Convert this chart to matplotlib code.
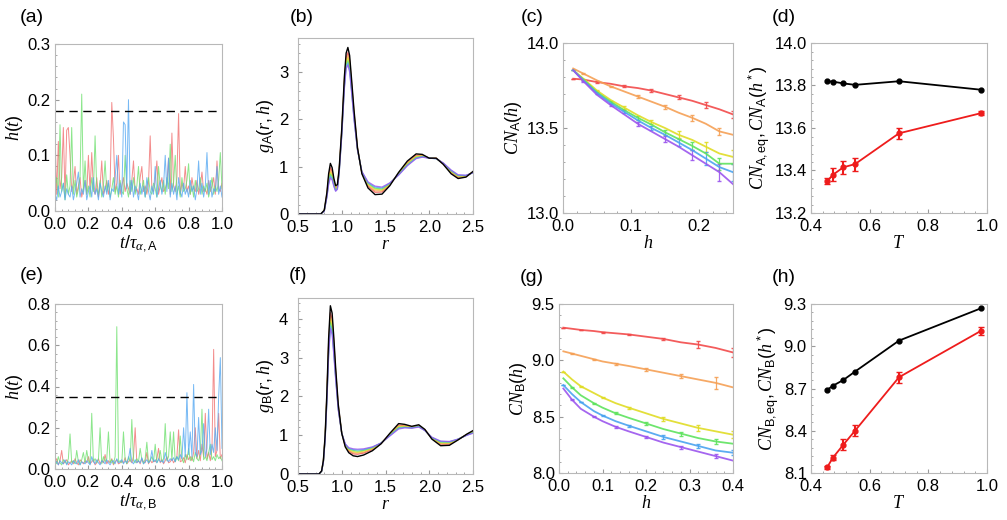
import numpy as np
import matplotlib
matplotlib.use("Agg")
import matplotlib.pyplot as plt
from matplotlib.ticker import AutoMinorLocator, FormatStrFormatter, MultipleLocator

plt.rcParams["font.family"] = ["Liberation Sans", "DejaVu Sans"]
# italic serif letters, upright sans subscripts
plt.rcParams["mathtext.fontset"] = "custom"
plt.rcParams["mathtext.rm"] = "Liberation Sans"
plt.rcParams["mathtext.it"] = "Liberation Serif:italic"
plt.rcParams["mathtext.bf"] = "Liberation Sans:bold"

# ---- (a) / (e) h(t) traces, values in 1e-3, one sample every 0.01 of t
t_grid = np.linspace(0, 1, 101)
ha_red = [140, 30, 125, 40, 60, 150, 25, 145, 150, 100,
          35, 50, 80, 30, 45, 60, 25, 40, 55, 30,
          100, 35, 105, 40, 30, 60, 25, 45, 90, 30,
          40, 55, 30, 45, 195, 130, 35, 50, 100, 30,
          45, 60, 35, 50, 40, 30, 55, 90, 35, 40,
          30, 60, 80, 35, 45, 30, 50, 135, 40, 35,
          55, 90, 30, 45, 60, 35, 40, 50, 95, 30,
          140, 45, 35, 60, 175, 30, 50, 40, 80, 35,
          45, 30, 60, 40, 35, 55, 30, 45, 70, 35,
          40, 30, 55, 35, 45, 60, 30, 90, 40, 35, 50]
ha_green = [40, 60, 25, 155, 35, 50, 20, 65, 30, 45,
            150, 30, 55, 25, 40, 60, 210, 35, 90, 30,
            45, 25, 60, 35, 135, 40, 30, 55, 25, 45,
            90, 35, 50, 25, 40, 60, 30, 45, 25, 55,
            35, 30, 100, 40, 25, 55, 35, 60, 30, 45,
            80, 30, 40, 55, 25, 45, 60, 35, 30, 50,
            40, 25, 80, 45, 35, 55, 30, 60, 40, 120,
            35, 50, 100, 30, 45, 25, 60, 35, 40, 55,
            85, 30, 45, 25, 55, 35, 40, 60, 30, 45,
            35, 50, 25, 40, 60, 30, 45, 35, 55, 105, 40]
ha_blue = [30, 20, 45, 25, 35, 50, 20, 40, 30, 25,
           45, 20, 35, 50, 70, 25, 40, 30, 55, 20,
           35, 45, 25, 60, 30, 40, 20, 50, 35, 25,
           45, 30, 55, 20, 40, 35, 60, 100, 30, 50,
           25, 160, 155, 40, 200, 30, 55, 25, 45, 35,
           20, 50, 30, 45, 25, 60, 35, 20, 45, 30,
           80, 25, 40, 55, 30, 45, 100, 35, 95, 25,
           50, 30, 45, 20, 60, 35, 25, 50, 30, 40,
           25, 55, 35, 45, 20, 40, 90, 30, 50, 25,
           45, 105, 30, 55, 25, 40, 35, 80, 30, 45, 25]

he_red = [30, 50, 20, 40, 90, 25, 35, 45, 20, 30,
          40, 25, 50, 30, 20, 45, 35, 25, 40, 30,
          60, 25, 35, 45, 20, 30, 50, 25, 40, 30,
          70, 25, 40, 30, 50, 20, 35, 45, 25, 30,
          40, 30, 55, 25, 35, 45, 30, 60, 200, 30,
          40, 25, 50, 35, 30, 80, 25, 45, 30, 40,
          35, 50, 100, 30, 45, 25, 40, 60, 30, 35,
          50, 30, 45, 60, 190, 35, 40, 55, 30, 70,
          45, 60, 40, 80, 200, 50, 90, 40, 120, 60,
          270, 50, 80, 40, 100, 580, 60, 90, 270, 50, 70]
he_green = [40, 25, 60, 30, 20, 45, 35, 25, 50, 170,
            30, 40, 25, 90, 35, 20, 45, 80, 30, 90,
            40, 25, 270, 35, 50, 30, 45, 200, 25, 60,
            35, 50, 180, 30, 45, 25, 60, 690, 35, 40,
            30, 180, 45, 25, 60, 35, 240, 40, 30, 50,
            35, 100, 45, 25, 50, 130, 30, 40, 60, 35,
            120, 30, 45, 90, 35, 50, 220, 40, 60, 180,
            45, 180, 35, 60, 40, 160, 50, 30, 70, 45,
            100, 40, 60, 35, 80, 50, 40, 70, 290, 45,
            60, 40, 80, 120, 45, 60, 40, 70, 50, 60, 40]
he_blue = [25, 35, 20, 40, 30, 25, 45, 20, 35, 30,
           20, 40, 30, 25, 45, 20, 35, 30, 25, 40,
           30, 20, 60, 35, 25, 45, 30, 20, 40, 35,
           25, 45, 30, 20, 35, 40, 25, 50, 30, 35,
           45, 25, 40, 30, 50, 100, 35, 25, 45, 30,
           40, 30, 55, 25, 35, 45, 30, 40, 90, 35,
           45, 30, 50, 35, 40, 30, 80, 45, 35, 50,
           40, 55, 35, 60, 45, 70, 50, 200, 60, 370,
           70, 180, 60, 410, 80, 60, 250, 70, 90, 220,
           60, 100, 290, 70, 120, 80, 200, 90, 350, 540, 100]
h_cut_a = 0.18
h_cut_e = 0.35

# ---- (b) g_A(r,h): black + red..purple
r_a = [0.5, 0.76, 0.80, 0.83, 0.85, 0.87, 0.89, 0.91, 0.93, 0.95, 0.97, 1.0,
       1.03, 1.05, 1.07, 1.09, 1.11, 1.14, 1.18, 1.23, 1.3, 1.38, 1.46, 1.55,
       1.65, 1.75, 1.85, 1.92, 2.0, 2.08, 2.16, 2.25, 2.33, 2.42, 2.5]
gA_black = [0, 0, 0.08, 0.45, 0.85, 1.07, 0.98, 0.75, 0.60, 0.62, 0.95, 1.8,
            2.9, 3.4, 3.52, 3.35, 2.9, 2.2, 1.4, 0.85, 0.55, 0.41, 0.42, 0.60,
            0.88, 1.12, 1.27, 1.26, 1.18, 1.18, 1.05, 0.85, 0.75, 0.78, 0.9]
gA_red = [0, 0, 0.07, 0.42, 0.78, 0.98, 0.90, 0.70, 0.56, 0.59, 0.92, 1.755,
          2.82, 3.30, 3.41, 3.25, 2.82, 2.14, 1.39, 0.865, 0.59, 0.46, 0.465, 0.62,
          0.86, 1.09, 1.24, 1.24, 1.18, 1.18, 1.06, 0.875, 0.775, 0.79, 0.89]
gA_orange = [0, 0, 0.07, 0.405, 0.75, 0.93, 0.86, 0.67, 0.55, 0.575, 0.905, 1.73,
             2.79, 3.25, 3.35, 3.19, 2.77, 2.11, 1.38, 0.87, 0.61, 0.49, 0.49, 0.63,
             0.85, 1.075, 1.225, 1.235, 1.18, 1.175, 1.065, 0.885, 0.785, 0.80, 0.885]
gA_yellow = [0, 0, 0.07, 0.39, 0.71, 0.88, 0.82, 0.65, 0.53, 0.56, 0.89, 1.71,
             2.75, 3.20, 3.30, 3.14, 2.73, 2.08, 1.37, 0.88, 0.63, 0.52, 0.51, 0.635,
             0.845, 1.06, 1.21, 1.225, 1.18, 1.175, 1.07, 0.90, 0.80, 0.805, 0.88]
gA_green = [0, 0, 0.07, 0.375, 0.68, 0.84, 0.79, 0.62, 0.51, 0.545, 0.875, 1.69,
            2.71, 3.15, 3.24, 3.09, 2.69, 2.05, 1.36, 0.89, 0.65, 0.545, 0.53, 0.645,
            0.835, 1.045, 1.195, 1.215, 1.18, 1.17, 1.07, 0.91, 0.81, 0.81, 0.875]
gA_blue = [0, 0, 0.06, 0.36, 0.65, 0.80, 0.75, 0.60, 0.49, 0.53, 0.86, 1.67,
           2.68, 3.11, 3.19, 3.04, 2.65, 2.02, 1.36, 0.89, 0.66, 0.57, 0.55, 0.65,
           0.83, 1.03, 1.18, 1.21, 1.18, 1.17, 1.075, 0.92, 0.82, 0.815, 0.87]
gA_purple = [0, 0, 0.06, 0.35, 0.62, 0.76, 0.72, 0.58, 0.48, 0.52, 0.85, 1.65,
             2.65, 3.07, 3.15, 3.0, 2.62, 2.0, 1.35, 0.9, 0.68, 0.59, 0.57, 0.66,
             0.82, 1.02, 1.17, 1.2, 1.18, 1.17, 1.08, 0.93, 0.83, 0.82, 0.87]

# ---- (f) g_B(r,h)
r_b = [0.5, 0.74, 0.77, 0.79, 0.81, 0.83, 0.85, 0.87, 0.89, 0.91, 0.93, 0.96,
       1.0, 1.04, 1.08, 1.13, 1.18, 1.25, 1.35, 1.45, 1.55, 1.65, 1.72, 1.8,
       1.88, 1.95, 2.03, 2.13, 2.23, 2.33, 2.43, 2.5]
gB_black = [0, 0, 0.08, 0.35, 1.0, 2.1, 3.5, 4.34, 4.15, 3.5, 2.75, 1.8,
            1.05, 0.7, 0.55, 0.47, 0.45, 0.49, 0.6, 0.78, 1.05, 1.3, 1.28, 1.23,
            1.27, 1.15, 0.9, 0.73, 0.74, 0.88, 1.03, 1.12]
gB_red = [0, 0, 0.08, 0.34, 0.96, 2.03, 3.37, 4.16, 3.99, 3.37, 2.66, 1.76,
          1.05, 0.72, 0.59, 0.52, 0.51, 0.54, 0.63, 0.79, 1.03, 1.26, 1.25, 1.22,
          1.25, 1.14, 0.92, 0.77, 0.77, 0.89, 1.02, 1.10]
gB_orange = [0, 0, 0.08, 0.33, 0.95, 1.99, 3.30, 4.07, 3.90, 3.30, 2.62, 1.73,
             1.05, 0.74, 0.61, 0.55, 0.54, 0.56, 0.65, 0.79, 1.02, 1.24, 1.24, 1.21,
             1.24, 1.14, 0.92, 0.78, 0.79, 0.89, 1.02, 1.09]
gB_yellow = [0, 0, 0.07, 0.32, 0.93, 1.95, 3.23, 3.99, 3.82, 3.23, 2.57, 1.71,
             1.05, 0.75, 0.63, 0.58, 0.56, 0.59, 0.66, 0.79, 1.01, 1.22, 1.23, 1.20,
             1.23, 1.13, 0.93, 0.80, 0.80, 0.89, 1.01, 1.08]
gB_green = [0, 0, 0.07, 0.31, 0.91, 1.91, 3.16, 3.90, 3.74, 3.16, 2.53, 1.69,
            1.05, 0.76, 0.65, 0.61, 0.59, 0.61, 0.68, 0.80, 1.00, 1.20, 1.21, 1.19,
            1.23, 1.13, 0.94, 0.82, 0.82, 0.90, 1.01, 1.07]
gB_blue = [0, 0, 0.07, 0.31, 0.89, 1.88, 3.10, 3.82, 3.67, 3.10, 2.49, 1.67,
           1.05, 0.77, 0.66, 0.63, 0.62, 0.63, 0.69, 0.80, 0.99, 1.18, 1.20, 1.19,
           1.22, 1.12, 0.94, 0.84, 0.83, 0.90, 1.00, 1.06]
gB_purple = [0, 0, 0.07, 0.30, 0.88, 1.85, 3.05, 3.75, 3.60, 3.05, 2.45, 1.65,
             1.05, 0.78, 0.68, 0.65, 0.64, 0.65, 0.70, 0.80, 0.98, 1.16, 1.19, 1.18,
             1.21, 1.12, 0.95, 0.85, 0.84, 0.90, 1.00, 1.05]

# ---- (c) CN_A(h)
h_c = [0.015, 0.03, 0.05, 0.07, 0.09, 0.11, 0.13, 0.15, 0.17, 0.19, 0.21, 0.23, 0.25]
cnA = [
    [13.79, 13.785, 13.77, 13.76, 13.745, 13.735, 13.72, 13.70, 13.68, 13.66, 13.635, 13.61, 13.58],
    [13.85, 13.82, 13.78, 13.745, 13.715, 13.685, 13.655, 13.625, 13.59, 13.56, 13.525, 13.48, 13.46],
    [13.84, 13.79, 13.72, 13.665, 13.62, 13.575, 13.535, 13.50, 13.46, 13.43, 13.39, 13.35, 13.33],
    [13.84, 13.785, 13.71, 13.655, 13.605, 13.56, 13.52, 13.475, 13.435, 13.395, 13.35, 13.29, 13.29],
    [13.84, 13.78, 13.705, 13.645, 13.595, 13.545, 13.50, 13.46, 13.415, 13.37, 13.32, 13.27, 13.24],
    [13.84, 13.775, 13.695, 13.635, 13.58, 13.525, 13.48, 13.435, 13.39, 13.34, 13.29, 13.24, 13.17],
]
cnA_err = [
    [0, .003, .005, .005, .006, .007, .008, .010, .012, .014, .016, .018, .020],
    [0, .003, .004, .005, .006, .008, .010, .012, .014, .016, .018, .020, .020],
    [0, .003, .005, .006, .008, .010, .013, .016, .020, .025, .030, .040, .040],
    [0, .003, .005, .006, .008, .010, .012, .015, .018, .022, .028, .035, .035],
    [0, .003, .005, .007, .009, .011, .014, .017, .020, .030, .040, .045, .050],
    [0, .003, .005, .007, .009, .011, .014, .018, .022, .030, .040, .050, .050],
]

# ---- (g) CN_B(h)
h_g = [0.01, 0.03, 0.05, 0.08, 0.1, 0.13, 0.16, 0.2, 0.24, 0.28, 0.32, 0.36, 0.4]
cnB = [
    [9.29, 9.28, 9.27, 9.26, 9.25, 9.24, 9.23, 9.21, 9.19, 9.16, 9.14, 9.11, 9.07],
    [9.08, 9.06, 9.04, 9.01, 8.99, 8.97, 8.95, 8.92, 8.89, 8.86, 8.83, 8.80, 8.76],
    [8.90, 8.83, 8.77, 8.71, 8.67, 8.62, 8.58, 8.53, 8.48, 8.44, 8.40, 8.37, 8.34],
    [8.84, 8.76, 8.69, 8.62, 8.58, 8.53, 8.49, 8.44, 8.39, 8.35, 8.31, 8.28, 8.26],
    [8.78, 8.70, 8.63, 8.55, 8.51, 8.46, 8.42, 8.37, 8.32, 8.28, 8.24, 8.20, 8.18],
    [8.75, 8.65, 8.57, 8.50, 8.46, 8.41, 8.37, 8.32, 8.27, 8.23, 8.19, 8.15, 8.11],
]
cnB_err = [
    [0, 0, .003, .004, .005, .006, .008, .010, .012, .015, .030, .040, .040],
    [0, .003, .004, .005, .006, .008, .010, .012, .015, .020, .040, .050, .050],
    [0, .003, .004, .005, .006, .008, .010, .012, .015, .020, .025, .030, .030],
    [0, .003, .004, .005, .006, .008, .010, .012, .014, .018, .020, .022, .022],
    [0, .003, .004, .005, .006, .008, .010, .012, .014, .016, .018, .020, .020],
    [0, .003, .004, .005, .006, .007, .008, .010, .012, .014, .016, .018, .020],
]

# ---- (d) / (h) vs temperature
T = [0.455, 0.475, 0.51, 0.55, 0.70, 0.98]
cnA_eq = [13.82, 13.818, 13.81, 13.803, 13.82, 13.78]
cnA_star = [13.35, 13.38, 13.415, 13.43, 13.575, 13.67]
cnA_star_err = [0.015, 0.03, 0.03, 0.03, 0.025, 0.008]
cnB_eq = [8.69, 8.72, 8.76, 8.82, 9.04, 9.27]
cnB_star = [8.14, 8.21, 8.30, 8.40, 8.78, 9.11]
cnB_star_err = [0.01, 0.02, 0.04, 0.04, 0.04, 0.03]

rainbow = ["#f24a4a", "#f5a055", "#e0dc25", "#5ee35e", "#4aa3f0", "#9b55ee"]
trace_colors = ["#f07070", "#6fe06f", "#55a8f2"]

fig = plt.figure(figsize=(10.07, 5.2), dpi=100)
W, H = 1007, 520


def add_ax(x0, x1, y0, y1):
    return fig.add_axes([x0 / W, 1 - y1 / H, (x1 - x0) / W, (y1 - y0) / H])


def style(ax, xlim, ylim, xstep, ystep, xfmt, yfmt, xlabel, ylabel, ypad=3):
    ax.set_xlim(*xlim)
    ax.set_ylim(*ylim)
    ax.xaxis.set_major_locator(MultipleLocator(xstep))
    ax.yaxis.set_major_locator(MultipleLocator(ystep))
    ax.xaxis.set_major_formatter(FormatStrFormatter(xfmt))
    ax.yaxis.set_major_formatter(FormatStrFormatter(yfmt))
    ax.xaxis.set_minor_locator(AutoMinorLocator(5))
    ax.yaxis.set_minor_locator(AutoMinorLocator(5))
    for s in ax.spines.values():
        s.set_color("#b8b8b8")
        s.set_linewidth(0.8)
    ax.tick_params(which="both", direction="in", color="#9a9a9a", labelsize=12)
    ax.tick_params(axis="x", pad=4)
    ax.tick_params(axis="y", pad=ypad)
    ax.tick_params(which="major", length=3)
    ax.tick_params(which="minor", length=1.5)
    ax.set_xlabel(xlabel, fontsize=13, labelpad=1)
    ax.set_ylabel(ylabel, fontsize=13, labelpad=2)


def panel_label(x, y, s):
    fig.text(x / W, 1 - y / H, s, fontsize=14, ha="center", va="center")


# (a)
ax = add_ax(55, 222, 44, 211)
for vals, c in zip([ha_red, ha_green, ha_blue], trace_colors):
    ax.plot(t_grid, np.array(vals) / 1000, color=c, lw=0.7, alpha=0.8)
ax.axhline(h_cut_a, color="k", lw=1, dashes=(6, 4))
style(ax, (0, 1), (0, 0.3), 0.2, 0.1, "%.1f", "%.1f",
      r"$t/\tau_{\alpha,\mathrm{A}}$", r"$h(t)$")
panel_label(32, 17, "(a)")

# (e)
ax = add_ax(55, 222, 304, 469)
for vals, c in zip([he_red, he_green, he_blue], trace_colors):
    ax.plot(t_grid, np.array(vals) / 1000, color=c, lw=0.7, alpha=0.8)
ax.axhline(h_cut_e, color="k", lw=1, dashes=(6, 4))
style(ax, (0, 1), (0, 0.8), 0.2, 0.2, "%.1f", "%.1f",
      r"$t/\tau_{\alpha,\mathrm{B}}$", r"$h(t)$")
panel_label(32, 276, "(e)")

# (b)
ax = add_ax(298, 473, 38, 214)
for g, c in zip([gA_red, gA_orange, gA_yellow, gA_green, gA_blue, gA_purple], rainbow):
    ax.plot(r_a, g, color=c, lw=0.9, alpha=0.8)
ax.plot(r_a, gA_black, color="k", lw=1.0)
style(ax, (0.5, 2.5), (0, 3.72), 0.5, 1, "%.1f", "%d",
      r"$r$", r"$g_{\mathrm{A}}(r,h)$", ypad=7)
panel_label(302, 17, "(b)")

# (f)
ax = add_ax(298, 473, 298, 474)
for g, c in zip([gB_red, gB_orange, gB_yellow, gB_green, gB_blue, gB_purple], rainbow):
    ax.plot(r_b, g, color=c, lw=0.9, alpha=0.8)
ax.plot(r_b, gB_black, color="k", lw=1.0)
style(ax, (0.5, 2.5), (0, 4.54), 0.5, 1, "%.1f", "%d",
      r"$r$", r"$g_{\mathrm{B}}(r,h)$", ypad=7)
panel_label(298, 276, "(f)")

# (c)
ax = add_ax(563, 733, 43, 213)
for k, (y, e, c) in enumerate(zip(cnA, cnA_err, rainbow)):
    ax.errorbar(h_c, y, yerr=e, color=c, lw=1.3, elinewidth=0.9, capsize=1.5,
                errorevery=(k % 2, 2), ecolor=c, alpha=0.9)
style(ax, (0, 0.25), (13.0, 14.0), 0.1, 0.5, "%.1f", "%.1f",
      r"$h$", r"$CN_{\mathrm{A}}(h)$")
panel_label(532, 17, "(c)")

# (g)
ax = add_ax(559, 733, 304, 473)
for k, (y, e, c) in enumerate(zip(cnB, cnB_err, rainbow)):
    ax.errorbar(h_g, y, yerr=e, color=c, lw=1.3, elinewidth=0.9, capsize=1.5,
                errorevery=(k % 2, 2), ecolor=c, alpha=0.9)
style(ax, (0, 0.4), (8.0, 9.5), 0.1, 0.5, "%.1f", "%.1f",
      r"$h$", r"$CN_{\mathrm{B}}(h)$")
panel_label(532, 277, "(g)")

# (d)
ax = add_ax(811, 987, 43, 213)
ax.plot(T, cnA_eq, "o-", color="k", ms=3.5, lw=1.3)
ax.errorbar(T, cnA_star, yerr=cnA_star_err, fmt="o-", color="#ee1c1c", ms=3.5,
            lw=1.3, elinewidth=1.5, capsize=2)
style(ax, (0.4, 1.0), (13.2, 14.0), 0.2, 0.2, "%.1f", "%.1f",
      r"$T$", r"$CN_{\mathrm{A,eq}}, CN_{\mathrm{A}}(h^*)$")
panel_label(784, 17, "(d)")

# (h)
ax = add_ax(811, 987, 304, 473)
ax.plot(T, cnB_eq, "o-", color="k", ms=3.5, lw=1.3)
ax.errorbar(T, cnB_star, yerr=cnB_star_err, fmt="o-", color="#ee1c1c", ms=3.5,
            lw=1.3, elinewidth=1.5, capsize=2)
style(ax, (0.4, 1.0), (8.1, 9.3), 0.2, 0.3, "%.1f", "%.1f",
      r"$T$", r"$CN_{\mathrm{B,eq}}, CN_{\mathrm{B}}(h^*)$")
panel_label(784, 277, "(h)")

fig.savefig("out.png", dpi=100)
